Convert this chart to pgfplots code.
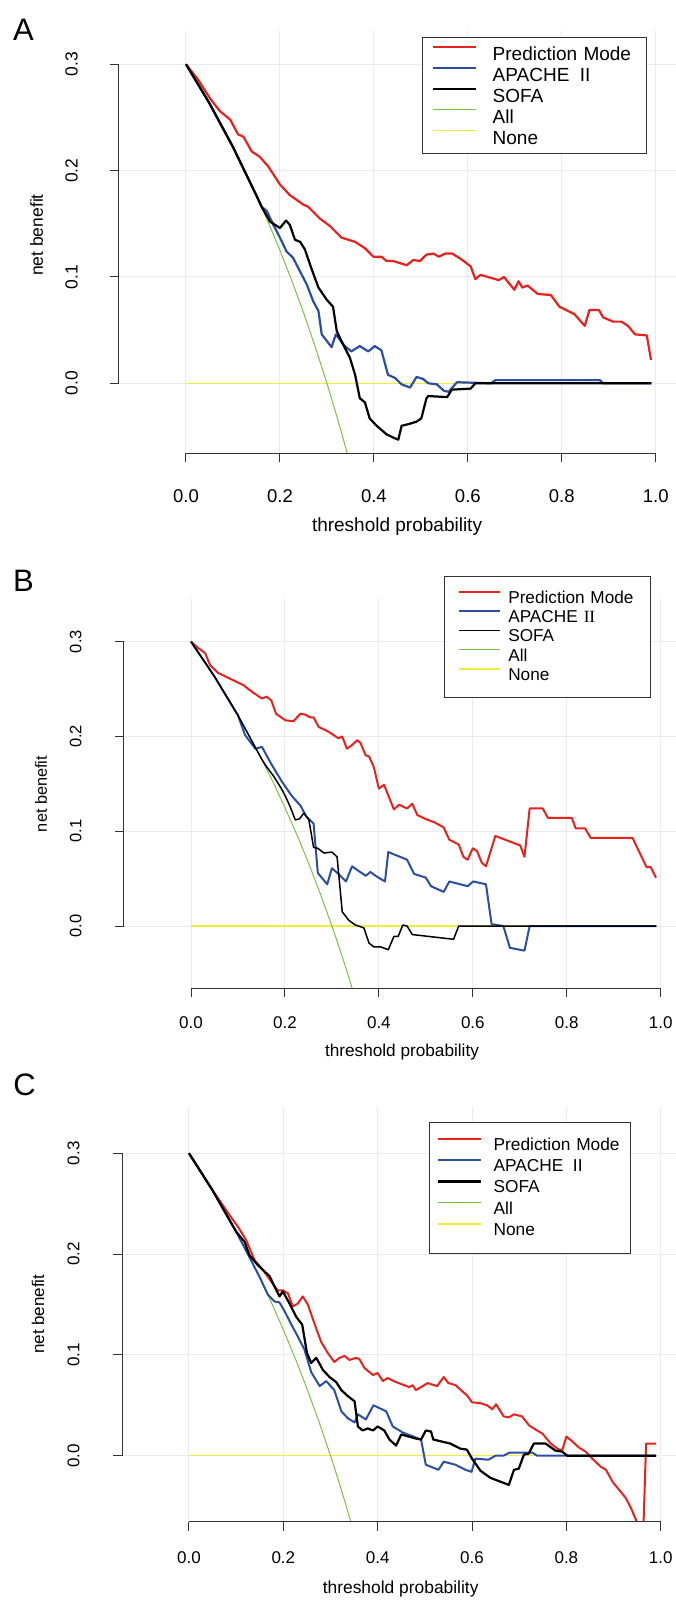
\documentclass[border=0pt]{standalone}
\usepackage{pgfplots}
\usepackage{pgfplotstable}
\pgfplotsset{compat=1.18}
\usepackage{fontspec}
\setmainfont{Liberation Sans}
\newfontfamily\serifII{Liberation Serif}
\definecolor{cRed}{HTML}{E8211D}
\definecolor{cBlue}{HTML}{2B4EA2}
\definecolor{cGreen}{HTML}{7DC142}
\definecolor{cYellow}{HTML}{EDED3A}
\definecolor{cGrid}{HTML}{EAEAEA}
\definecolor{cAxis}{HTML}{333333}

% All (treat all), common to the three panels
\pgfplotstableread{
t v
0 0.3
0.025 0.2821
0.05 0.2632
0.075 0.2432
0.1 0.2222
0.125 0.2
0.15 0.1765
0.175 0.1515
0.2 0.125
0.225 0.0968
0.25 0.0667
0.275 0.0345
0.3 0
0.31 -0.0145
0.32 -0.0294
0.33 -0.0448
0.34 -0.0606
0.35 -0.0769
0.36 -0.0938
}\allT

% ---------- Panel A ----------
\pgfplotstableread{
t v
0 0.300
0.025 0.286
0.051 0.268
0.072 0.256
0.094 0.248
0.111 0.234
0.122 0.232
0.140 0.218
0.157 0.213
0.175 0.204
0.200 0.187
0.221 0.177
0.250 0.168
0.260 0.166
0.285 0.155
0.306 0.148
0.331 0.137
0.360 0.133
0.381 0.127
0.399 0.119
0.416 0.119
0.427 0.115
0.441 0.115
0.470 0.111
0.484 0.116
0.498 0.115
0.512 0.121
0.527 0.122
0.538 0.119
0.552 0.122
0.567 0.122
0.588 0.116
0.606 0.110
0.616 0.098
0.627 0.102
0.666 0.097
0.677 0.100
0.699 0.088
0.708 0.096
0.716 0.090
0.727 0.092
0.749 0.084
0.777 0.083
0.795 0.072
0.809 0.069
0.827 0.065
0.849 0.054
0.859 0.069
0.879 0.069
0.888 0.062
0.909 0.058
0.927 0.058
0.941 0.054
0.956 0.046
0.981 0.045
0.990 0.022
}\redA
\pgfplotstableread{
t v
0 0.3
0.05 0.2632
0.1 0.2222
0.15 0.1765
0.161 0.166
0.172 0.162
0.186 0.149
0.200 0.137
0.214 0.124
0.228 0.118
0.243 0.105
0.257 0.093
0.271 0.077
0.282 0.068
0.289 0.046
0.310 0.034
0.319 0.046
0.338 0.035
0.352 0.030
0.370 0.035
0.388 0.030
0.402 0.035
0.416 0.031
0.430 0.008
0.445 0.005
0.459 -0.001
0.477 -0.004
0.491 0.006
0.505 0.004
0.516 0.000
0.534 -0.001
0.549 -0.007
0.559 -0.008
0.577 0.001
0.649 0.000
0.659 0.003
0.881 0.003
0.888 0.000
0.991 0.000
}\blueA
\pgfplotstableread{
t v
0 0.3
0.05 0.2632
0.1 0.2222
0.15 0.1765
0.161 0.166
0.179 0.152
0.200 0.146
0.213 0.153
0.221 0.149
0.232 0.135
0.243 0.133
0.253 0.126
0.267 0.108
0.282 0.090
0.299 0.079
0.313 0.072
0.321 0.049
0.335 0.036
0.349 0.024
0.360 0.008
0.370 -0.014
0.381 -0.018
0.391 -0.033
0.406 -0.040
0.427 -0.048
0.441 -0.051
0.452 -0.053
0.459 -0.040
0.477 -0.038
0.491 -0.036
0.501 -0.033
0.512 -0.014
0.516 -0.012
0.556 -0.013
0.566 -0.006
0.606 -0.005
0.616 0.000
0.991 0.000
}\blackA

% ---------- Panel B ----------
\pgfplotstableread{
t v
0 0.300
0.016 0.293
0.030 0.288
0.041 0.275
0.058 0.267
0.087 0.260
0.112 0.254
0.130 0.247
0.151 0.240
0.161 0.242
0.171 0.238
0.181 0.224
0.201 0.217
0.218 0.216
0.233 0.224
0.243 0.223
0.254 0.220
0.261 0.220
0.272 0.210
0.293 0.205
0.314 0.198
0.322 0.200
0.332 0.187
0.343 0.191
0.354 0.196
0.361 0.193
0.372 0.180
0.379 0.179
0.389 0.168
0.400 0.145
0.411 0.149
0.432 0.123
0.443 0.128
0.460 0.124
0.471 0.129
0.482 0.117
0.499 0.113
0.520 0.109
0.538 0.104
0.550 0.091
0.570 0.086
0.580 0.073
0.589 0.070
0.600 0.082
0.609 0.079
0.619 0.067
0.628 0.063
0.648 0.095
0.701 0.085
0.710 0.073
0.721 0.124
0.749 0.124
0.760 0.114
0.811 0.114
0.819 0.103
0.839 0.103
0.851 0.093
0.940 0.093
0.970 0.062
0.979 0.062
0.990 0.051
}\redB
\pgfplotstableread{
t v
0 0.3
0.05 0.2632
0.1 0.2222
0.115 0.2015
0.137 0.187
0.151 0.189
0.172 0.170
0.194 0.152
0.215 0.137
0.233 0.127
0.245 0.116
0.261 0.108
0.270 0.056
0.290 0.044
0.300 0.061
0.316 0.054
0.330 0.047
0.343 0.063
0.357 0.058
0.372 0.053
0.382 0.057
0.396 0.052
0.413 0.047
0.420 0.078
0.460 0.070
0.475 0.055
0.500 0.051
0.511 0.042
0.538 0.036
0.550 0.047
0.589 0.042
0.601 0.047
0.628 0.044
0.640 0.002
0.665 0.000
0.679 -0.023
0.710 -0.026
0.721 0.000
0.991 0.000
}\blueB
\pgfplotstableread{
t v
0 0.3
0.05 0.2632
0.1 0.2222
0.15 0.1765
0.158 0.170
0.176 0.158
0.190 0.147
0.200 0.138
0.211 0.126
0.222 0.112
0.231 0.113
0.240 0.119
0.251 0.112
0.261 0.083
0.270 0.082
0.283 0.077
0.300 0.078
0.311 0.073
0.322 0.015
0.336 0.006
0.350 0.001
0.368 -0.002
0.379 -0.018
0.389 -0.022
0.404 -0.022
0.420 -0.025
0.432 -0.011
0.441 -0.011
0.451 0.001
0.460 0.000
0.471 -0.009
0.559 -0.014
0.570 0.000
0.991 0.000
}\blackB

% ---------- Panel C ----------
\pgfplotstableread{
t v
0 0.3
0.05 0.2632
0.09 0.236
0.104 0.227
0.121 0.214
0.139 0.194
0.157 0.184
0.174 0.173
0.188 0.164
0.199 0.164
0.210 0.161
0.220 0.148
0.231 0.151
0.241 0.158
0.252 0.150
0.266 0.131
0.280 0.113
0.294 0.102
0.308 0.093
0.319 0.097
0.330 0.099
0.340 0.095
0.354 0.097
0.361 0.096
0.372 0.087
0.390 0.080
0.400 0.082
0.411 0.074
0.421 0.077
0.439 0.073
0.467 0.068
0.474 0.070
0.481 0.065
0.506 0.072
0.526 0.069
0.540 0.078
0.550 0.072
0.565 0.070
0.579 0.064
0.589 0.060
0.600 0.053
0.618 0.052
0.632 0.050
0.643 0.046
0.651 0.051
0.667 0.039
0.678 0.038
0.689 0.041
0.706 0.039
0.721 0.030
0.738 0.025
0.749 0.022
0.767 0.012
0.781 0.007
0.791 0.005
0.800 0.019
0.813 0.014
0.827 0.008
0.841 0.004
0.855 -0.003
0.873 -0.011
0.884 -0.014
0.898 -0.026
0.912 -0.034
0.926 -0.042
0.937 -0.052
0.948 -0.064
0.955 -0.090
0.962 -0.090
0.969 0.012
0.990 0.012
}\redC
\pgfplotstableread{
t v
0 0.3
0.05 0.2632
0.1 0.2222
0.128 0.197
0.150 0.177
0.167 0.160
0.181 0.153
0.192 0.152
0.203 0.143
0.217 0.130
0.231 0.118
0.245 0.105
0.259 0.083
0.277 0.069
0.291 0.074
0.308 0.065
0.323 0.044
0.337 0.037
0.351 0.033
0.358 0.041
0.375 0.036
0.391 0.050
0.418 0.044
0.432 0.029
0.453 0.023
0.492 0.016
0.502 -0.009
0.529 -0.014
0.540 -0.006
0.565 -0.009
0.586 -0.014
0.599 -0.016
0.607 -0.003
0.635 -0.004
0.650 0.000
0.667 0.000
0.679 0.003
0.728 0.003
0.738 0.000
0.990 0.000
}\blueC
\pgfplotstableread{
t v
0 0.3
0.05 0.2632
0.1 0.2222
0.118 0.212
0.128 0.199
0.146 0.189
0.171 0.178
0.181 0.168
0.192 0.158
0.199 0.163
0.213 0.151
0.227 0.138
0.240 0.130
0.250 0.102
0.259 0.092
0.270 0.097
0.284 0.085
0.298 0.078
0.312 0.073
0.323 0.065
0.337 0.059
0.351 0.054
0.358 0.029
0.368 0.025
0.379 0.027
0.390 0.025
0.400 0.029
0.414 0.025
0.425 0.016
0.439 0.010
0.450 0.021
0.481 0.017
0.492 0.016
0.502 0.025
0.513 0.024
0.518 0.016
0.554 0.012
0.575 0.007
0.589 0.006
0.600 -0.003
0.618 -0.015
0.639 -0.022
0.678 -0.029
0.689 -0.014
0.699 -0.013
0.710 0.001
0.720 0.002
0.731 0.012
0.756 0.012
0.777 0.005
0.791 0.004
0.802 0.000
0.990 0.000
}\blackC

\pgfplotsset{
  dca/.style={
    scale only axis,
    anchor=south west,
    axis x line*=bottom, axis y line*=left,
    axis line style={draw=none},
    tick align=outside,
    major tick length=9pt,
    tick style={cAxis, line width=1pt},
    xtick={0,0.2,0.4,0.6,0.8,1},
    xticklabels={0.0,0.2,0.4,0.6,0.8,1.0},
    ytick={0,0.1,0.2,0.3},
    yticklabels={\rotatebox{90}{0.0},\rotatebox{90}{0.1},\rotatebox{90}{0.2},\rotatebox{90}{0.3}},
    grid=major,
    major grid style={cGrid, line width=1pt},
    clip mode=individual,
    xticklabel style={anchor=center},
    yticklabel style={anchor=center},
    xlabel={threshold probability},
    ylabel={net benefit},
    legend cell align=left,
    every axis plot/.append style={line join=round},
  },
}

\begin{document}
\begin{tikzpicture}
\useasboundingbox (0,0) rectangle (676pt,1602pt);

% ================= A =================
\node[font=\fontsize{31}{31}\selectfont] at (23.5pt,1572pt) {A};
\begin{axis}[dca,
  at={(118.5pt,1148.5pt)}, width=557.5pt, height=422.5pt,
  xmin=-0.1437, xmax=1.0432, ymin=-0.066, ymax=0.3313,
  xticklabel style={yshift=-34pt, font=\fontsize{18.5}{20}\selectfont},
  yticklabel style={xshift=-38pt, font=\fontsize{17.5}{20}\selectfont},
  xlabel style={at={(axis description cs:0.4996,-0.1740)}, anchor=center, font=\fontsize{19}{21}\selectfont},
  ylabel style={at={(axis description cs:-0.1469,0.517)}, anchor=center, font=\fontsize{17.5}{21}\selectfont},
  legend image code/.code={\draw[#1] (0pt,6.8pt) -- (43pt,6.8pt);},
  legend style={at={(0.5444,0.9858)}, anchor=north west, draw=cAxis, line width=1pt, fill=white,
    inner xsep=9pt, inner ysep=7pt, row sep=3pt,
    font=\fontsize{19}{21}\selectfont,
    nodes={inner sep=0pt, text height=15.8pt, text depth=2.2pt},
    /tikz/every odd column/.append style={column sep=16pt},
    /tikz/every even column/.append style={text width=145pt}},
]
\addlegendimage{cRed, line width=2.2pt}\addlegendentry{Prediction Mode}
\addlegendimage{cBlue, line width=2.2pt}\addlegendentry{APACHE\hspace{0.55em}II}
\addlegendimage{black, line width=2.2pt}\addlegendentry{SOFA}
\addlegendimage{cGreen, line width=1pt}\addlegendentry{All}
\addlegendimage{cYellow, line width=1.3pt}\addlegendentry{None}
\addplot[cYellow, line width=1.3pt, forget plot] coordinates {(0,0) (0.99,0)};
\addplot[cGreen, line width=1pt, forget plot] table[x=t,y=v] {\allT};
\addplot[cRed, line width=2.2pt, forget plot] table[x=t,y=v] {\redA};
\addplot[cBlue, line width=2.2pt, forget plot] table[x=t,y=v] {\blueA};
\addplot[black, line width=2.2pt, forget plot] table[x=t,y=v] {\blackA};
\draw[cAxis, line width=1pt] (axis cs:0,-0.066) -- (axis cs:1,-0.066);
\draw[cAxis, line width=1pt] (axis cs:-0.1437,0) -- (axis cs:-0.1437,0.3);
\end{axis}

% ================= B =================
\node[font=\fontsize{31}{31}\selectfont] at (23.5pt,1021.3pt) {B};
\begin{axis}[dca,
  at={(123.7pt,613.7pt)}, width=552.3pt, height=389pt,
  xmin=-0.1433, xmax=1.0326, ymin=-0.0657, ymax=0.3447,
  xticklabel style={yshift=-25pt, font=\fontsize{17}{20}\selectfont},
  yticklabel style={xshift=-39pt, font=\fontsize{16.5}{20}\selectfont},
  xlabel style={at={(axis description cs:0.5039,-0.1638)}, anchor=center, font=\fontsize{17.2}{21}\selectfont},
  ylabel style={at={(axis description cs:-0.1497,0.4995)}, anchor=center, font=\fontsize{16.3}{21}\selectfont},
  legend image code/.code={\draw[#1] (0pt,6.2pt) -- (41pt,6.2pt);},
  legend style={at={(0.5799,1.061)}, anchor=north west, draw=cAxis, line width=1pt, fill=white,
    inner xsep=13.8pt, inner ysep=13pt, row sep=1.3pt,
    font=\fontsize{17.2}{20}\selectfont,
    nodes={inner sep=0pt, text height=14.2pt, text depth=3.8pt},
    /tikz/every odd column/.append style={column sep=7pt},
    /tikz/every even column/.append style={text width=128pt}},
]
\addlegendimage{cRed, line width=2pt}\addlegendentry{Prediction Mode}
\addlegendimage{cBlue, line width=2pt}\addlegendentry{APACHE\hspace{0.35em}{\serifII II}}
\addlegendimage{black, line width=1.5pt}\addlegendentry{SOFA}
\addlegendimage{cGreen, line width=1pt}\addlegendentry{All}
\addlegendimage{cYellow, line width=1.3pt}\addlegendentry{None}
\addplot[cYellow, line width=1.3pt, forget plot] coordinates {(0,0) (0.99,0)};
\addplot[cGreen, line width=1pt, forget plot] table[x=t,y=v] {\allT};
\addplot[cRed, line width=2pt, forget plot] table[x=t,y=v] {\redB};
\addplot[cBlue, line width=2pt, forget plot] table[x=t,y=v] {\blueB};
\addplot[black, line width=1.5pt, forget plot] table[x=t,y=v] {\blackB};
\draw[cAxis, line width=1pt] (axis cs:0,-0.0657) -- (axis cs:1,-0.0657);
\draw[cAxis, line width=1pt] (axis cs:-0.1433,0) -- (axis cs:-0.1433,0.3);
\end{axis}

% ================= C =================
\node[font=\fontsize{31}{31}\selectfont] at (24.5pt,517pt) {C};
\begin{axis}[dca,
  at={(122pt,80.3pt)}, width=554pt, height=415pt,
  xmin=-0.1420, xmax=1.0324, ymin=-0.0655, ymax=0.3462,
  xticklabel style={yshift=-27.4pt, font=\fontsize{17}{20}\selectfont},
  yticklabel style={xshift=-39.5pt, font=\fontsize{17}{20}\selectfont},
  xlabel style={at={(axis description cs:0.503,-0.1622)}, anchor=center, font=\fontsize{17.4}{21}\selectfont},
  ylabel style={at={(axis description cs:-0.1516,0.5)}, anchor=center, font=\fontsize{17}{21}\selectfont},
  legend image code/.code={\draw[#1] (0pt,6.2pt) -- (43.7pt,6.2pt);},
  legend style={at={(0.554,0.9643)}, anchor=north west, draw=cAxis, line width=1pt, fill=white,
    inner xsep=7pt, inner ysep=14pt, row sep=3.3pt,
    font=\fontsize{17.3}{20}\selectfont,
    nodes={inner sep=0pt, text height=14.2pt, text depth=3.8pt},
    /tikz/every odd column/.append style={column sep=11.3pt},
    /tikz/every even column/.append style={text width=130pt}},
]
\addlegendimage{cRed, line width=2pt}\addlegendentry{Prediction Mode}
\addlegendimage{cBlue, line width=2pt}\addlegendentry{APACHE\hspace{0.55em}II}
\addlegendimage{black, line width=2.2pt}\addlegendentry{SOFA}
\addlegendimage{cGreen, line width=1pt}\addlegendentry{All}
\addlegendimage{cYellow, line width=1.3pt}\addlegendentry{None}
\addplot[cYellow, line width=1.3pt, forget plot] coordinates {(0,0) (0.99,0)};
\addplot[cGreen, line width=1pt, forget plot] table[x=t,y=v] {\allT};
\addplot[cRed, line width=2pt, forget plot] table[x=t,y=v] {\redC};
\addplot[cBlue, line width=2pt, forget plot] table[x=t,y=v] {\blueC};
\addplot[black, line width=2.2pt, forget plot] table[x=t,y=v] {\blackC};
\draw[cAxis, line width=1pt] (axis cs:0,-0.0655) -- (axis cs:1,-0.0655);
\draw[cAxis, line width=1pt] (axis cs:-0.1420,0) -- (axis cs:-0.1420,0.3);
\end{axis}
\end{tikzpicture}
\end{document}
